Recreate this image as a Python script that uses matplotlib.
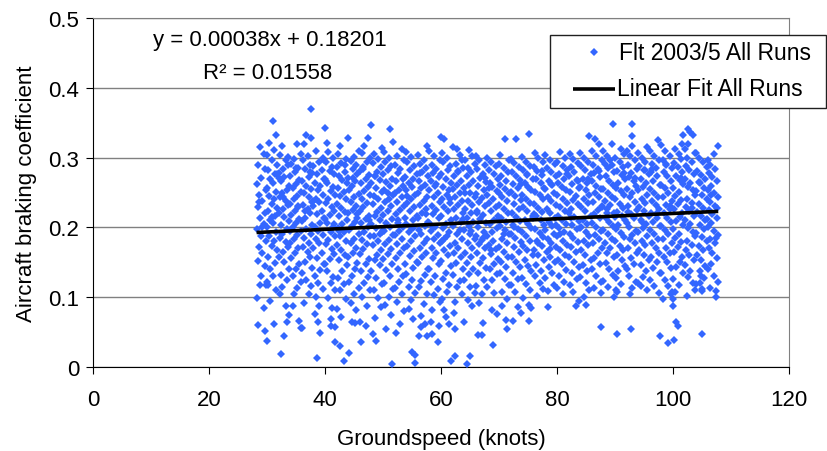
import numpy as np
import matplotlib
matplotlib.use("Agg")
import matplotlib.pyplot as plt
from matplotlib.patches import Rectangle
from matplotlib.lines import Line2D

plt.rcParams['font.family'] = ['Liberation Sans', 'DejaVu Sans']

# groundspeed bins (knots), 2 knots wide
bin_start = list(range(28, 108, 2))

# points, per bin: "dyyy" -> speed = bin + 0.2*d, coefficient = yyy/1000
bin_points = [
    "4315 7305 2290 8283 5271 1262 9254 3246 6238 2229 8221 4214 7205 1197 5188 9180 3172 6163 2152 8144 4118 9118 1099 7085 2060 8052 5130 3237 6201",
    "5353 8333 2321 6311 0304 4297 9289 1282 7276 3270 5263 0257 8251 2245 6240 4234 9228 1223 7217 3211 5206 0200 8194 2188 6181 4174 9167 1158 7149 3140 5131 0122 8110 1118 6062 0037 3095 9277 4215",
    "2018 5045 7064 9075 3316 1304 6297 8290 4284 0278 5272 2266 9260 7254 3249 1243 6238 8232 4226 0220 5215 9209 2203 7197 3191 1185 6179 8172 4165 0158 5150 9141 2132 7124 3115 1105 6088 8301 4243 0271",
    "6320 9305 3298 1291 7285 4279 0273 8268 5262 2256 9251 6245 3240 0234 7229 4223 1218 8212 5206 2200 9195 6189 3183 0177 7171 4164 1156 8148 5140 2131 9122 6113 3104 8066 9056 2088 5285 7230 0195",
    "2320 4333 8370 8328 0056 5302 1296 7290 3284 9278 6272 0266 4260 8255 2249 6243 9237 1232 5226 7220 3214 0209 9203 4197 8191 2185 6178 1172 5165 7158 3150 9142 0134 4125 8116 6105 2092 7279 3224",
    "1076 3013 4064 6049 2310 8300 5294 0288 7282 3276 9270 1264 6259 4253 8247 2241 5236 0230 7224 3219 9213 6207 1201 4195 8189 2183 5177 0170 7163 3156 9148 6139 1130 4121 8112 2101 5087 9296 0238",
    "0343 2321 5069 5059 9057 9036 3308 7299 1293 6287 4281 8276 0270 2264 7258 5252 9247 3241 1235 6229 8224 4218 0212 2206 7200 5194 9188 3182 1176 6169 8162 4155 0147 2138 7129 5120 9111 3099 6084 1267 8205",
    "3316 3030 6008 1305 8298 4292 0286 7280 2274 5268 9263 1257 6251 3245 8240 0234 4228 7222 2217 9211 5205 1199 6193 3187 8181 0175 4168 7161 2154 9146 5137 1128 6119 3110 8098 0083 4072 7289 2195",
    "0328 1020 3064 6063 9310 5301 2295 7289 4283 8277 0271 6266 3260 1254 9248 5243 2237 7231 4225 0220 8214 6208 3202 1196 9190 5184 2178 7171 4164 0157 8149 6140 3131 1122 9113 5104 2091 7082 4271 8219",
    "0065 1036 4316 5059 7328 2306 9299 6293 3287 0281 8275 5269 1264 7258 4252 9246 2240 6235 3229 0223 8217 5212 1206 7200 4194 9188 2182 6176 3169 0162 8155 5147 1138 7129 4120 9111 2100 6088 3283 8210",
    "0346 1047 3070 4037 9314 2305 6298 1292 8286 5280 3274 7268 0263 4257 9251 2245 6240 1234 8228 5222 3217 7211 0205 4199 9193 2187 6181 1175 8168 5161 3154 7146 0137 4128 9119 2110 6099 8086 3274 7190",
    "3054 6341 8005 9323 1308 5300 2294 7288 4282 0276 8270 3265 6259 1253 9247 5241 2236 7230 4224 0218 8212 3207 6201 1195 9189 5182 2176 7169 4162 0155 8147 3139 6130 1121 9112 5101 2089 7074 4250 0196",
    "6312 2303 8296 0290 5284 3278 9272 1266 7260 4254 0249 6243 2237 8231 5225 1219 9213 3207 7201 4195 0189 6183 2176 8170 5163 1156 9148 3140 7131 4122 0113 6104 2093 8080 5062 1048 7269 3211",
    "2083 5022 6069 8006 8017 0308 4301 1294 7288 3282 9276 6270 2264 5258 0253 8247 4241 1235 7229 3223 9217 6211 0205 5199 2193 8187 4180 1173 7166 3159 9151 6142 0133 5124 2115 8106 4096 1245 6199",
    "1044 3057 3073 6062 8044 8316 0304 5297 2291 7285 4279 9273 1267 6261 3256 0250 8244 5238 2232 7226 4220 0214 9208 6202 1196 3190 8184 5177 2171 7164 4157 0149 9141 6132 3123 1114 8104 5090 2278 7219",
    "1065 2047 7036 8059 0309 4302 9296 2290 6284 3278 8272 1266 5260 0254 7249 4243 9237 2231 6225 3219 8213 0207 5201 1195 7189 4183 9177 2170 6163 3156 8148 0140 5131 1122 7112 4103 9093 2081 6262 3200",
    "0330 3327 3081 4072 7061 9008 1307 5300 2294 8288 6282 0276 4270 9264 2258 7253 5247 1241 8235 3229 6223 0217 9211 4205 2199 7193 5187 1181 8174 3167 6160 0152 9144 4135 2126 7117 5107 1097 8240 3183",
    "0315 4312 1078 2054 2016 6304 8297 3291 9285 5279 1273 7267 4261 0255 6250 2244 8238 5232 1226 9220 3214 7208 0202 6196 4190 8184 2178 5171 1164 7157 3149 9141 0132 6123 4114 8104 2093 5281 9212",
    "4311 0064 2005 5016 7303 1297 9291 3285 6279 2273 8267 4261 0256 5250 9244 3238 7232 1226 6220 2214 8208 4202 0196 5190 9184 3178 7171 1164 6157 2149 8141 4133 0124 5115 9106 3096 7087 1250 6195",
    "2046 5046 6063 0303 3296 8289 1283 6277 4271 9265 2259 7253 0248 5242 3236 8230 1224 6218 4212 9206 2200 7194 0188 5182 3176 8170 1163 6156 4149 9142 2134 7125 0116 5104 3091 8271 1221 6185",
    "5032 4081 8076 0300 3294 7288 1282 6276 9270 2264 4258 8252 0247 5241 1235 7229 3223 9217 6211 2205 8199 4193 0187 5181 1175 7169 3162 9155 6148 2141 8133 4125 0115 6106 1256 9210 3168",
    "5327 1304 3087 6067 7054 9297 0291 4285 8279 2273 6267 1261 5255 9249 3244 7238 0232 4226 8220 2214 6208 1202 5196 9190 3184 7178 0172 4165 8158 2151 6143 1135 5126 9118 3108 7098 0250 4191",
    "2066 5327 6086 9077 0298 3292 7286 1280 5274 8268 2262 6256 0251 4245 9239 3233 7227 1221 5215 8209 2203 6197 0191 4185 9179 3172 7165 1158 5151 8143 2135 6126 0117 4108 9262 3201",
    "6334 6066 8084 6089 0301 3294 7288 1282 4276 9270 2264 5258 8253 0247 3241 7235 1229 4223 9217 2211 5205 8199 0193 3187 7181 1174 4167 9160 2153 5145 8137 0128 3119 7110 1099 4275 9213",
    "1306 4299 8293 0287 3281 7275 2269 6263 9257 1251 5246 8240 0234 4228 7222 2216 6210 9204 1198 5192 8186 3180 7174 0167 4160 9153 2146 6138 1130 5121 8112 3102 7281 0219 4177",
    "2086 0304 4297 8291 1285 5279 9273 3267 6261 0255 7250 2244 5238 9232 1226 4220 8214 3208 6202 0196 7190 2184 5178 9172 1165 4158 8151 3143 6135 0127 7118 2109 5262 9203 4169",
    "3308 7300 0294 5288 9282 2276 6270 1264 4258 8253 0247 5241 9235 3229 7223 1217 4211 8205 2199 6193 0187 5181 9175 3168 7161 1154 4147 8139 2131 6122 0113 5104 9277 3190",
    "6087 9094 1305 4298 8292 2286 5280 0274 7268 3262 9256 1251 6245 4239 8233 2227 0221 5215 9209 3203 7197 1191 4185 8179 2172 6165 0158 5151 9143 3135 7126 1117 4108 8266 2214",
    "5089 8331 0307 3300 7294 1288 4282 9276 2270 6264 0258 5253 8247 3241 7235 1229 4223 9217 2211 6205 0199 5193 8187 3181 7175 1168 4161 9154 2146 6138 0129 5120 8111 3100 7270 1200",
    "3326 6319 8057 8106 0309 4302 9296 1290 5284 2278 7272 0266 4260 8255 3249 6243 1237 9231 5225 2219 7213 0207 4201 8195 3189 6183 1177 9170 5163 2156 7148 0140 4131 8122 2113 6281 9229",
    "8348 7320 9100 0310 3303 6297 1291 4285 9279 2273 5267 8261 0255 4250 7244 1238 6232 3226 9220 2214 5208 8202 0196 4190 7184 1178 6171 3164 9157 2149 5141 8132 0123 4114 7289 3221",
    "2047 2108 1110 5312 8305 0299 4293 7287 2281 6275 9269 3263 1257 5252 8246 0240 4234 7228 2222 6216 9210 3204 1198 5192 8186 0180 4174 7167 2160 6153 9145 3137 1128 5119 8278 0215",
    "5348 5331 5317 4055 0309 3302 7296 1290 9284 4278 2272 6266 8260 0255 5249 3243 7237 1231 9225 4219 6213 0207 2201 8195 5189 3183 7177 1170 9163 4156 6148 0140 2131 8122 5113 3104 7271 1222",
    "2116 8111 8315 0307 3300 6294 1288 5282 9276 2270 7264 4258 0253 8247 3241 6235 1229 5223 9217 2211 7205 4199 0193 8187 3181 6175 1168 5161 9154 2146 7138 4129 0120 6282 3208",
    "7325 9045 0310 4303 8297 2291 5285 1279 6273 3267 9261 0255 4250 7244 2238 5232 8226 1220 6214 3208 9202 0196 4190 7184 2178 5171 8164 1157 6150 3142 9134 0125 4116 8106 2284 6220",
    "6034 8105 0318 3310 7303 1297 4291 9285 2279 5273 8267 0261 3256 6250 1244 9238 4232 7226 2220 5214 8208 0202 3196 6190 1184 9178 4171 7164 2157 5150 8142 0134 3125 6116 9108 1097 4289 7230",
    "1039 3064 4059 0088 0098 9333 8320 2312 5305 7298 1292 4286 8280 3274 6268 9262 0257 5251 2245 7239 4233 1227 8221 6215 3209 9203 0197 5191 2185 7179 4172 1165 8158 6151 3143 9135 0126 5117 2108 7271",
    "3341 5337 7332 3320 9306 0313 2300 6294 1288 4282 8276 0270 5264 3258 7253 9247 2241 6235 1229 4223 8217 0211 5205 3199 7193 9187 2181 6175 1168 4161 8154 0146 5138 3129 7120 9111 2102 6228",
    "5047 5112 3120 4130 0306 2299 6293 9287 1281 4275 8269 3263 7257 0252 5246 9240 2234 6228 1222 4216 8210 3204 7198 0192 5186 9180 2174 6167 1160 4153 8145 3137 7128 0119 5109 2265 9212",
    "5305 9317 7101 7109 0296 2290 6284 1278 4272 8266 3260 0254 5249 9243 2237 6231 1225 4219 8213 3207 0201 5195 9189 2183 6177 1170 4163 8156 3148 0140 5131 9122 2113 7185 3246 8228",
]

# linear fit shown on the chart
fit_slope = 0.00038
fit_intercept = 0.18201
fit_r2 = 0.01558

series_labels = ['Flt 2003/5 All Runs', 'Linear Fit All Runs']

speed = []
brake = []
for x0, s in zip(bin_start, bin_points):
    for tok in s.split():
        speed.append(x0 + 0.2 * int(tok[0]))
        brake.append(int(tok[1:]) / 1000.0)
speed = np.array(speed)
brake = np.array(brake)

W, H = 827, 452
fig = plt.figure(figsize=(W / 100, H / 100), dpi=100)
ax = fig.add_axes([93 / W, 84 / H, 696 / W, 349 / H])

blue = '#3366FF'
ms = 3.9
ax.plot(speed, brake, 'D', color=blue, ms=ms, mew=0, ls='none', zorder=3)

xfit = np.array([speed.min(), speed.max()])
ax.plot(xfit, fit_intercept + fit_slope * xfit, color='black', lw=2.6, zorder=4,
        solid_capstyle='butt')

ax.set_xlim(0, 120)
ax.set_ylim(0, 0.5)
ax.set_xticks(np.arange(0, 121, 20))
ax.set_yticks([0, 0.1, 0.2, 0.3, 0.4, 0.5])
ax.set_yticklabels(['0', '0.1', '0.2', '0.3', '0.4', '0.5'])
ax.yaxis.grid(True, color='#808080', lw=1)
ax.set_axisbelow(True)
ax.tick_params(labelsize=16, length=5, direction='out', color='black')
ax.tick_params(axis='y', pad=5)
ax.tick_params(axis='x', pad=11)
for side in ['top', 'right']:
    ax.spines[side].set_color('#808080')
for side in ['left', 'bottom']:
    ax.spines[side].set_color('black')

ax.set_xlabel('Groundspeed (knots)', fontsize=16, labelpad=13)
ax.set_ylabel('Aircraft braking coefficient', fontsize=16, labelpad=8)

ax.text(0.254, 0.937, 'y = %.5fx + %.5f' % (fit_slope, fit_intercept),
        transform=ax.transAxes, ha='center', va='center', fontsize=16)
ax.text(0.251, 0.845, 'R² = %.5f' % fit_r2,
        transform=ax.transAxes, ha='center', va='center', fontsize=16)

# legend box drawn in figure pixels
def fx(px):
    return px / W

def fy(py):
    return (H - py) / H

fig.patches.append(Rectangle((fx(550), fy(109)), 276 / W, 73 / H, transform=fig.transFigure,
                             facecolor='white', edgecolor='#202020', lw=1, zorder=10))
fig.lines.append(Line2D([fx(594)], [fy(53)], marker='D', color=blue, ms=ms, mew=0,
                        transform=fig.transFigure, zorder=11))
fig.lines.append(Line2D([fx(573), fx(615)], [fy(90), fy(90)], color='black', lw=2.6,
                        transform=fig.transFigure, zorder=11, solid_capstyle='butt'))
fig.text(fx(619), fy(53), series_labels[0], ha='left', va='center', fontsize=16.5, zorder=12)
fig.text(fx(617), fy(89), series_labels[1], ha='left', va='center', fontsize=16.5, zorder=12)

fig.savefig('out.png', dpi=100)
